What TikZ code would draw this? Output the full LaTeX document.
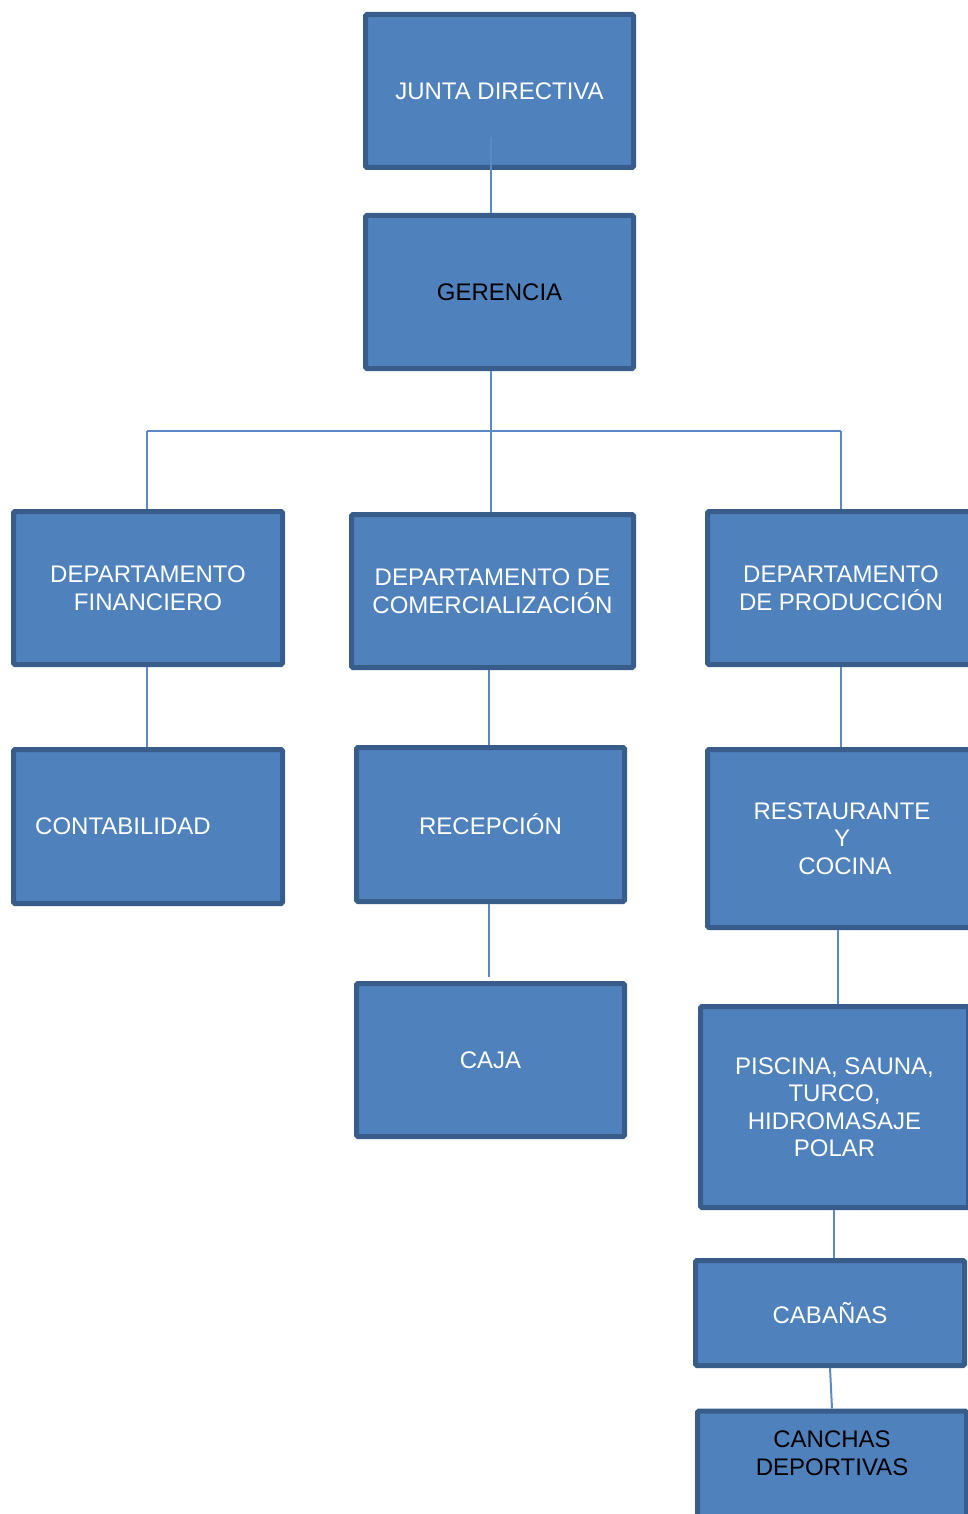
\documentclass[tikz,border=0pt]{standalone}
\usepackage{fontspec}
\setmainfont{Liberation Sans}
\definecolor{boxfill}{HTML}{4F81BD}
\definecolor{boxline}{HTML}{385D8A}
\definecolor{conn}{HTML}{5A8AC6}
\begin{document}
\begin{tikzpicture}[x=1pt,y=-1pt,
  box/.style={draw=boxline, line width=5pt, fill=boxfill, rounded corners=1.5pt,
    text=white, align=center, inner sep=0pt, outer sep=0.5\pgflinewidth,
    font=\fontsize{24}{27.5}\selectfont},
  lbl/.style={text=white, align=center, inner sep=0pt, font=\fontsize{24}{27.5}\selectfont},
  link/.style={draw=conn, line width=2pt}]
\useasboundingbox (0,0) rectangle (968,1514);
\clip (0,0) rectangle (968,1514);
% boxes
\node[box, minimum width=268, minimum height=153] (jd) at (499.5,91) {JUNTA DIRECTIVA};
\node[box, minimum width=268, minimum height=153, text=black] (ger) at (499.5,292) {GERENCIA};
\node[box, minimum width=269, minimum height=153] (fin) at (148,588) {DEPARTAMENTO\\FINANCIERO};
\node[box, minimum width=282, minimum height=153] (com) at (492.5,591) {DEPARTAMENTO DE\\COMERCIALIZACIÓN};
\node[box, minimum width=267, minimum height=153] (prod) at (841,588) {DEPARTAMENTO\\DE PRODUCCIÓN};
\node[box, minimum width=269, minimum height=154] (cont) at (148,826.5) {};
\node[lbl] (contl) at (123,826.5) {CONTABILIDAD};
\node[box, minimum width=268, minimum height=154] (rec) at (490.5,824.5) {RECEPCIÓN};
\node[box, minimum width=268, minimum height=153] (caja) at (490.5,1060) {CAJA};
\node[box, minimum width=269, minimum height=178] (rest) at (842,838.5) {RESTAURANTE\\Y\\\hspace*{6pt}COCINA};
\node[box, minimum width=268, minimum height=201] (pis) at (834.5,1107) {PISCINA, SAUNA,\\TURCO,\\HIDROMASAJE\\POLAR};
\node[box, minimum width=269, minimum height=105] (cab) at (830,1313) {CABAÑAS};
\node[box, minimum width=269, minimum height=170] (can) at (832,1496) {};
\node[lbl, text=black] (canl) at (832,1453) {CANCHAS\\DEPORTIVAS};
% connectors
\coordinate (bar) at (491,431);
\coordinate (barL) at (147,431);
\coordinate (barR) at (841,431);
\draw[link] ([xshift=-8.5pt,yshift=33pt]jd.south) -- ([xshift=-8.5pt]ger.north);
\draw[link] ([xshift=-8.5pt]ger.south) -- (bar);
\draw[link] (barL) -- (barR);
\draw[link] (barL) -- ([xshift=-1pt]fin.north);
\draw[link] (bar) -- ([xshift=-1.5pt]com.north);
\draw[link] (barR) -- (prod.north);
\draw[link] ([xshift=-1pt]fin.south) -- ([xshift=-1pt]cont.north);
\draw[link] ([xshift=-3.5pt]com.south) -- ([xshift=-1.5pt]rec.north);
\draw[link] ([xshift=-1.5pt]rec.south) -- ([xshift=-1.5pt,yshift=4pt]caja.north);
\draw[link] (prod.south) -- ([xshift=-1pt]rest.north);
\draw[link] ([xshift=-4pt]rest.south) -- ([xshift=3.5pt]pis.north);
\draw[link] ([xshift=-0.5pt]pis.south) -- ([xshift=4pt]cab.north);
\draw[link] (cab.south) -- (can.north);
\end{tikzpicture}
\end{document}
